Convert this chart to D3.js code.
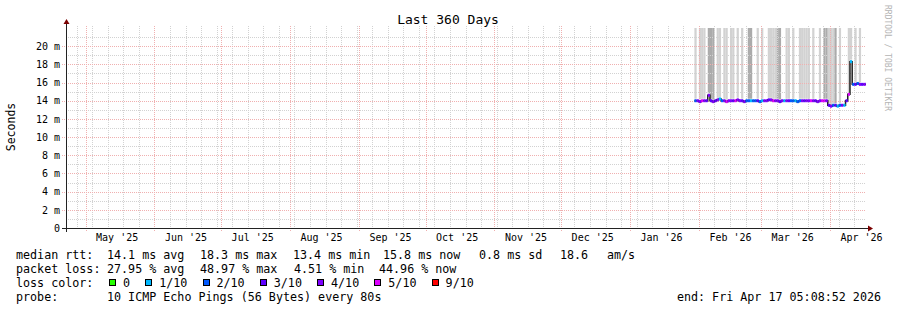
<!DOCTYPE html>
<html>
<head>
<meta charset="utf-8">
<script src="https://cdn.jsdelivr.net/npm/d3@7"></script>
<style>
body { margin: 0; background: #fff; }
text { font-family: "DejaVu Sans Mono", monospace; }
</style>
</head>
<body>
<svg id="chart" width="897" height="310"></svg>
<script>
// graph window: 360 days ending at the probe time
var endTime = new Date(Date.UTC(2026, 3, 17, 5, 8, 52));
var startTime = new Date(endTime.getTime() - 360 * 864e5);
var firstDay = new Date(Date.UTC(2026, 0, 30));   // first day with data

// daily median rtt (ms), Jan 30 .. Apr 17 2026
var medianMs = [
    14.0, 14.0, 13.9, 14.0, 14.0, 14.0, 14.6, 14.0, 13.9, 14.0,
    14.1, 14.2, 14.0, 14.0, 13.9, 14.0, 14.0, 14.0, 14.0, 14.1,
    14.0, 14.0, 13.9, 14.0, 14.0, 14.0, 14.0, 14.0, 14.0, 13.9,
    14.0, 14.0, 14.0, 14.1, 14.1, 14.0, 14.0, 14.0, 13.9, 14.0,
    14.0, 14.0, 14.0, 14.0, 14.0, 14.0, 13.9, 14.0, 14.0, 14.0,
    14.0, 14.0, 14.0, 14.0, 14.0, 13.9, 14.0, 14.0, 14.0, 14.0,
    13.5, 13.4, 13.5, 13.5, 13.4, 13.5, 13.5, 13.5, 14.0, 14.7,
    18.3, 15.8, 15.8, 15.9, 15.8, 15.8, 15.8, 15.8
];
// lost pings out of 10
var lossCount = [
    2, 4, 4, 5, 4, 3, 4, 3, 4, 3,
    4, 1, 2, 4, 5, 4, 4, 3, 5, 4,
    4, 3, 4, 2, 2, 1, 2, 2, 3, 2,
    1, 4, 4, 3, 4, 5, 4, 4, 3, 4,
    1, 4, 3, 2, 2, 1, 2, 2, 4, 3,
    4, 4, 5, 4, 3, 4, 4, 5, 5, 4,
    3, 4, 2, 3, 1, 2, 4, 1, 3, 5,
    1, 2, 3, 2, 4, 3, 4, 4
];
// smoke above median: 0 none, 1 light, 2 dark (reaches past the top)
var smokeLevel = [
    1, 0, 1, 1, 1, 0, 2, 2, 2, 0,
    1, 1, 0, 1, 1, 0, 1, 1, 0, 1,
    0, 1, 0, 0, 2, 2, 0, 0, 1, 0,
    1, 0, 0, 1, 1, 1, 1, 2, 2, 0,
    0, 1, 1, 0, 1, 0, 0, 1, 1, 1,
    1, 1, 0, 1, 0, 0, 1, 0, 2, 2,
    1, 1, 1, 2, 0, 1, 0, 0, 0, 1,
    1, 0, 1, 0, 1, 0, 0, 0
];

var yTicks = [0, 2, 4, 6, 8, 10, 12, 14, 16, 18, 20];
var lossSteps = [0, 1, 2, 3, 4, 5, 9];
var lossLabels = ['0', '1/10', '2/10', '3/10', '4/10', '5/10', '9/10'];
var lossColors = ['#26ff00', '#00b8ff', '#0059ff', '#5e00ff', '#7e00ff', '#dd00ff', '#ff0000'];

var rttLegend = ['median rtt:', '14.1 ms avg', '18.3 ms max', '13.4 ms min', '15.8 ms now', '0.8 ms sd', '18.6', 'am/s'];
var lossLegend = ['packet loss:', '27.95 % avg', '48.97 % max', '4.51 % min', '44.96 % now'];
var probeText = ['probe:', '10 ICMP Echo Pings (56 Bytes) every 80s'];
var endText = 'end: Fri Apr 17 05:08:52 2026';

var svg = d3.select('#chart');
var pLeft = 66, pRight = 866, pTop = 28, pBottom = 228;

var x = d3.scaleUtc().domain([startTime, endTime]).range([pLeft, pRight]);
var y = d3.scaleLinear().domain([0, 22]).range([pBottom, pTop]);

var days = medianMs.map((v, i) => ({
    t0: d3.utcDay.offset(firstDay, i),
    t1: d3.utcDay.offset(firstDay, i + 1),
    med: v,
    loss: lossCount[i],
    smoke: smokeLevel[i]
}));
function lossColor(l) {
    var k = 0;
    lossSteps.forEach((s, i) => { if (l >= s) k = i; });
    return lossColors[k];
}
function xc(t) { return Math.min(pRight, x(t)); }

svg.append('defs').append('clipPath').attr('id', 'plot')
    .append('rect').attr('x', pLeft).attr('y', pTop).attr('width', pRight - pLeft).attr('height', pBottom - pTop);

// smoke
svg.append('g').attr('clip-path', 'url(#plot)')
    .selectAll('rect')
    .data(days.filter(d => d.smoke > 0))
    .join('rect')
    .attr('x', d => x(d.t0))
    .attr('width', d => xc(d.t1) - x(d.t0))
    .attr('y', pTop)
    .attr('height', d => y(d.med) - 2 - pTop)
    .attr('fill', d => d.smoke == 2 ? '#ababab' : '#d2d2d2');

// grid
var grid = svg.append('g').attr('shape-rendering', 'crispEdges').attr('stroke-dasharray', '1,1');
grid.selectAll('.hmin')
    .data(d3.range(1, 23, 2))
    .join('line')
    .attr('x1', pLeft).attr('x2', pRight)
    .attr('y1', d => Math.round(y(d)) + 0.5).attr('y2', d => Math.round(y(d)) + 0.5)
    .attr('stroke', '#d2d2d2');
grid.selectAll('.vmin')
    .data(d3.utcSunday.range(startTime, endTime))
    .join('line')
    .attr('x1', d => Math.round(x(d)) + 0.5).attr('x2', d => Math.round(x(d)) + 0.5)
    .attr('y1', pTop - 2).attr('y2', pBottom)
    .attr('stroke', '#d2d2d2');
grid.selectAll('.hmaj')
    .data(yTicks.slice(1))
    .join('line')
    .attr('x1', pLeft - 4).attr('x2', pRight)
    .attr('y1', d => Math.round(y(d)) + 0.5).attr('y2', d => Math.round(y(d)) + 0.5)
    .attr('stroke', '#f0b0b0');
grid.selectAll('.vmaj')
    .data(d3.utcMonth.range(startTime, endTime))
    .join('line')
    .attr('x1', d => Math.round(x(d)) + 0.5).attr('x2', d => Math.round(x(d)) + 0.5)
    .attr('y1', pTop - 2).attr('y2', pBottom + 4)
    .attr('stroke', '#f0b0b0');

// median line: black steps, then loss coloured pieces
var pts = days.map(d => [x(d.t0), y(d.med)]);
pts.push([pRight, y(days[days.length - 1].med)]);
svg.append('path')
    .attr('d', d3.line().curve(d3.curveStepAfter)(pts))
    .attr('fill', 'none')
    .attr('stroke', '#202020')
    .attr('stroke-width', 1.5);
svg.append('g')
    .selectAll('line')
    .data(days)
    .join('line')
    .attr('x1', d => x(d.t0)).attr('x2', d => xc(d.t1))
    .attr('y1', d => y(d.med)).attr('y2', d => y(d.med))
    .attr('stroke', d => lossColor(d.loss))
    .attr('stroke-width', 3);

// axes
var yAxis = svg.append('g')
    .attr('transform', `translate(${pLeft},0)`)
    .call(d3.axisLeft(y).tickValues(yTicks).tickSize(0).tickPadding(6)
        .tickFormat(d => d ? d + ' m' : '0'));
yAxis.select('.domain').remove();
yAxis.selectAll('text').style('font-family', '"DejaVu Sans Mono"').style('font-size', '10px').attr('fill', '#000');

var monthMid = d3.utcMonth.range(startTime, endTime).map(d => d3.utcDay.offset(d, 14));
var xAxis = svg.append('g')
    .attr('transform', `translate(0,${pBottom})`)
    .call(d3.axisBottom(x).tickValues(monthMid).tickSize(0).tickPadding(6)
        .tickFormat(d3.utcFormat("%b '%y")));
xAxis.select('.domain').remove();
xAxis.selectAll('text').style('font-family', '"DejaVu Sans Mono"').style('font-size', '10px').attr('fill', '#000');

svg.append('line')
    .attr('x1', pLeft - 4).attr('x2', pRight + 3)
    .attr('y1', pBottom + 0.5).attr('y2', pBottom + 0.5)
    .attr('stroke', '#222').attr('shape-rendering', 'crispEdges');
svg.append('line')
    .attr('x1', pLeft + 0.5).attr('x2', pLeft + 0.5)
    .attr('y1', pBottom + 4).attr('y2', pTop - 5)
    .attr('stroke', '#222').attr('shape-rendering', 'crispEdges');
svg.append('path')
    .attr('d', `M${pRight + 2},${pBottom - 2.5}L${pRight + 7},${pBottom + 0.5}L${pRight + 2},${pBottom + 3.5}Z`)
    .attr('fill', '#7a0000');
svg.append('path')
    .attr('d', `M${pLeft - 2.5},${pTop - 4}L${pLeft + 0.5},${pTop - 9}L${pLeft + 3.5},${pTop - 4}Z`)
    .attr('fill', '#7a0000');

// title and side texts
svg.append('text')
    .attr('x', 448).attr('y', 24)
    .attr('text-anchor', 'middle')
    .style('font-size', '13px')
    .text('Last 360 Days');
svg.append('text')
    .attr('transform', 'translate(15,127) rotate(-90)')
    .attr('text-anchor', 'middle')
    .style('font-size', '11.5px')
    .text('Seconds');
svg.append('text')
    .attr('transform', 'translate(885,5) rotate(90)')
    .attr('fill', '#b4b4b4')
    .style('font-size', '8px')
    .text('RRDTOOL / TOBI OETIKER');

// legend
var legend = svg.append('g').style('font-size', '11.7px');
var rttX = [16, 107, 200, 293, 383, 479, 560, 607];
var lossX = [16, 107, 200, 294, 379];
legend.selectAll('.rtt').data(rttLegend).join('text')
    .attr('x', (d, i) => rttX[i]).attr('y', 259).text(d => d);
legend.selectAll('.pl').data(lossLegend).join('text')
    .attr('x', (d, i) => lossX[i]).attr('y', 273).text(d => d);
legend.append('text').attr('x', 16).attr('y', 287).text('loss color:');
var bx = 109;
lossLabels.forEach(function(lbl, i) {
    legend.append('rect')
        .attr('x', bx + 0.5).attr('y', 279.5).attr('width', 6).attr('height', 6)
        .attr('fill', lossColors[i]).attr('stroke', '#000').attr('shape-rendering', 'crispEdges');
    legend.append('text').attr('x', bx + 14).attr('y', 287).text(lbl);
    bx = bx + 14 + lbl.length * 7.02 + 15.2;
});
legend.append('text').attr('x', 16).attr('y', 301).text(probeText[0]);
legend.append('text').attr('x', 107).attr('y', 301).text(probeText[1]);
legend.append('text').attr('x', 881).attr('y', 301).attr('text-anchor', 'end').text(endText);
</script>
</body>
</html>
